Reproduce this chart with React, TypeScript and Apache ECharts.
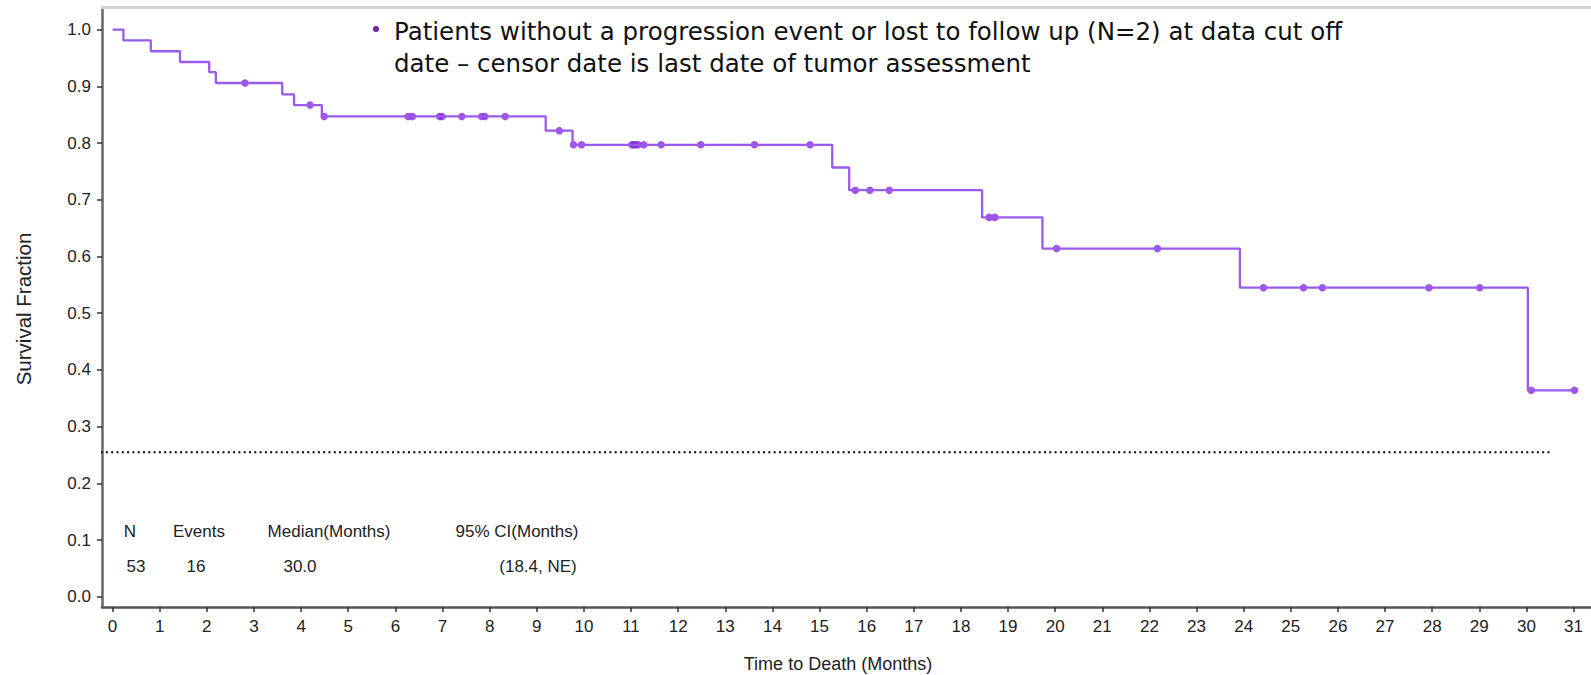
import React, { useEffect, useRef } from "react";
import * as echarts from "echarts";

// Kaplan-Meier step points (time in months, survival fraction)
const stepTimes = [0, 0.23, 0.81, 1.43, 2.05, 2.19, 3.6, 3.85, 4.44, 9.19, 9.76, 15.27, 15.63, 18.45, 19.73, 23.92, 30.03, 31.02];
const stepSurvival = [1.0, 0.981, 0.962, 0.943, 0.925, 0.906, 0.886, 0.867, 0.847, 0.822, 0.797, 0.757, 0.717, 0.669, 0.614, 0.545, 0.364, 0.364];

// Censored observations
const censorTimes = [2.81, 4.19, 4.49, 6.27, 6.36, 6.94, 6.99, 7.41, 7.83, 7.9, 8.33, 9.48, 9.78, 9.95, 11.02, 11.05, 11.1, 11.15, 11.27, 11.64, 12.48, 13.62, 14.8, 15.76, 16.07, 16.48, 18.6, 18.72, 20.03, 22.17, 24.42, 25.27, 25.67, 27.93, 29.01, 30.1, 31.02];
const censorSurvival = [0.906, 0.867, 0.847, 0.847, 0.847, 0.847, 0.847, 0.847, 0.847, 0.847, 0.847, 0.822, 0.797, 0.797, 0.797, 0.797, 0.797, 0.797, 0.797, 0.797, 0.797, 0.797, 0.797, 0.717, 0.717, 0.717, 0.669, 0.669, 0.614, 0.614, 0.545, 0.545, 0.545, 0.545, 0.545, 0.364, 0.364];

// Dotted reference line
const refLineX = [-0.48, 30.53];
const refLineY = 0.255;

// Tick labels
const xTicks = [0, 1, 2, 3, 4, 5, 6, 7, 8, 9, 10, 11, 12, 13, 14, 15, 16, 17, 18, 19, 20, 21, 22, 23, 24, 25, 26, 27, 28, 29, 30, 31];
const yTicks = [0, 0.1, 0.2, 0.3, 0.4, 0.5, 0.6, 0.7, 0.8, 0.9, 1.0];

// Summary table
const tableHeaders = ["N", "Events", "Median(Months)", "95% CI(Months)"];
const tableValues = ["53", "16", "30.0", "(18.4, NE)"];

// Note text
const noteLines = [
  "Patients without a progression event or lost to follow up (N=2) at data cut off",
  "date \u2013 censor date is last date of tumor assessment",
];

const xTitle = "Time to Death (Months)";
const yTitle = "Survival Fraction";

export default function App() {
  const ref = useRef<HTMLDivElement>(null);

  useEffect(() => {
    document.body.style.margin = "0";
    if (!ref.current) return;
    const chart = echarts.init(ref.current, null, { renderer: "svg" });
    const axisFont = "'Liberation Sans', Arial, sans-serif";

    const headerX = [130, 199, 329, 517];
    const valueX = [136, 196, 300, 538];

    const graphics: any[] = [];
    tableHeaders.forEach((t, i) => {
      graphics.push({
        type: "text",
        x: headerX[i],
        y: 531,
        style: { text: t, font: `17px ${axisFont}`, fill: "#222", textAlign: "center", textVerticalAlign: "middle" },
      });
    });
    tableValues.forEach((t, i) => {
      graphics.push({
        type: "text",
        x: valueX[i],
        y: 566,
        style: { text: t, font: `17px ${axisFont}`, fill: "#222", textAlign: "center", textVerticalAlign: "middle" },
      });
    });
    graphics.push({
      type: "circle",
      shape: { cx: 376, cy: 29, r: 3.2 },
      style: { fill: "#7030A0" },
    });
    graphics.push({
      type: "text",
      x: 394,
      y: 15,
      style: {
        text: noteLines.join("\n"),
        font: "24.5px 'DejaVu Sans', sans-serif",
        lineHeight: 32,
        fill: "#111",
        textAlign: "left",
        textVerticalAlign: "top",
      },
    });
    graphics.push({
      type: "text",
      x: 838,
      y: 664,
      style: { text: xTitle, font: `18px ${axisFont}`, fill: "#222", textAlign: "center", textVerticalAlign: "middle" },
    });
    graphics.push({
      type: "text",
      x: 23,
      y: 309,
      rotation: Math.PI / 2,
      style: { text: yTitle, font: `20.5px ${axisFont}`, fill: "#222", textAlign: "center", textVerticalAlign: "middle" },
    });

    chart.setOption({
      animation: false,
      backgroundColor: "#fff",
      grid: { left: 102, right: 0, top: 7, bottom: 68, containLabel: false },
      xAxis: [
        {
          type: "value",
          position: "bottom",
          min: -0.225,
          max: 31.37,
          axisLine: { show: true, onZero: false, lineStyle: { color: "#555", width: 2.5 } },
          axisTick: { show: true, customValues: xTicks, length: 5, lineStyle: { color: "#333", width: 1.5 } },
          axisLabel: { customValues: xTicks, margin: 11, fontSize: 17, color: "#222", fontFamily: axisFont },
          splitLine: { show: false },
        },
        {
          type: "value",
          position: "top",
          min: -0.225,
          max: 31.37,
          axisLine: { show: true, onZero: false, lineStyle: { color: "#d2d2d2", width: 3 } },
          axisTick: { show: false },
          axisLabel: { show: false },
          splitLine: { show: false },
        },
      ],
      yAxis: {
        type: "value",
        min: -0.018,
        max: 1.04,
        axisLine: { show: true, onZero: false, lineStyle: { color: "#666", width: 2.5 } },
        axisTick: { show: true, customValues: yTicks, length: 5, lineStyle: { color: "#333", width: 1.5 } },
        axisLabel: {
          customValues: yTicks,
          margin: 11,
          fontSize: 17,
          color: "#222",
          fontFamily: axisFont,
          formatter: (v: number) => v.toFixed(1),
        },
        splitLine: { show: false },
      },
      series: [
        {
          type: "line",
          step: "end",
          data: stepTimes.map((t, i) => [t, stepSurvival[i]]),
          showSymbol: false,
          lineStyle: { color: "#9A5AEC", width: 2.3 },
          silent: true,
        },
        {
          type: "scatter",
          data: censorTimes.map((t, i) => [t, censorSurvival[i]]),
          symbol: "circle",
          symbolSize: 7.5,
          itemStyle: { color: "#8A2BE2" },
          silent: true,
        },
        {
          type: "line",
          data: refLineX.map((x) => [x, refLineY]),
          showSymbol: false,
          clip: false,
          lineStyle: { color: "#000", width: 2, type: [2, 3.3] },
          silent: true,
        },
      ],
      graphic: graphics,
    });

    return () => chart.dispose();
  }, []);

  return <div ref={ref} style={{ width: 1591, height: 675 }} />;
}
